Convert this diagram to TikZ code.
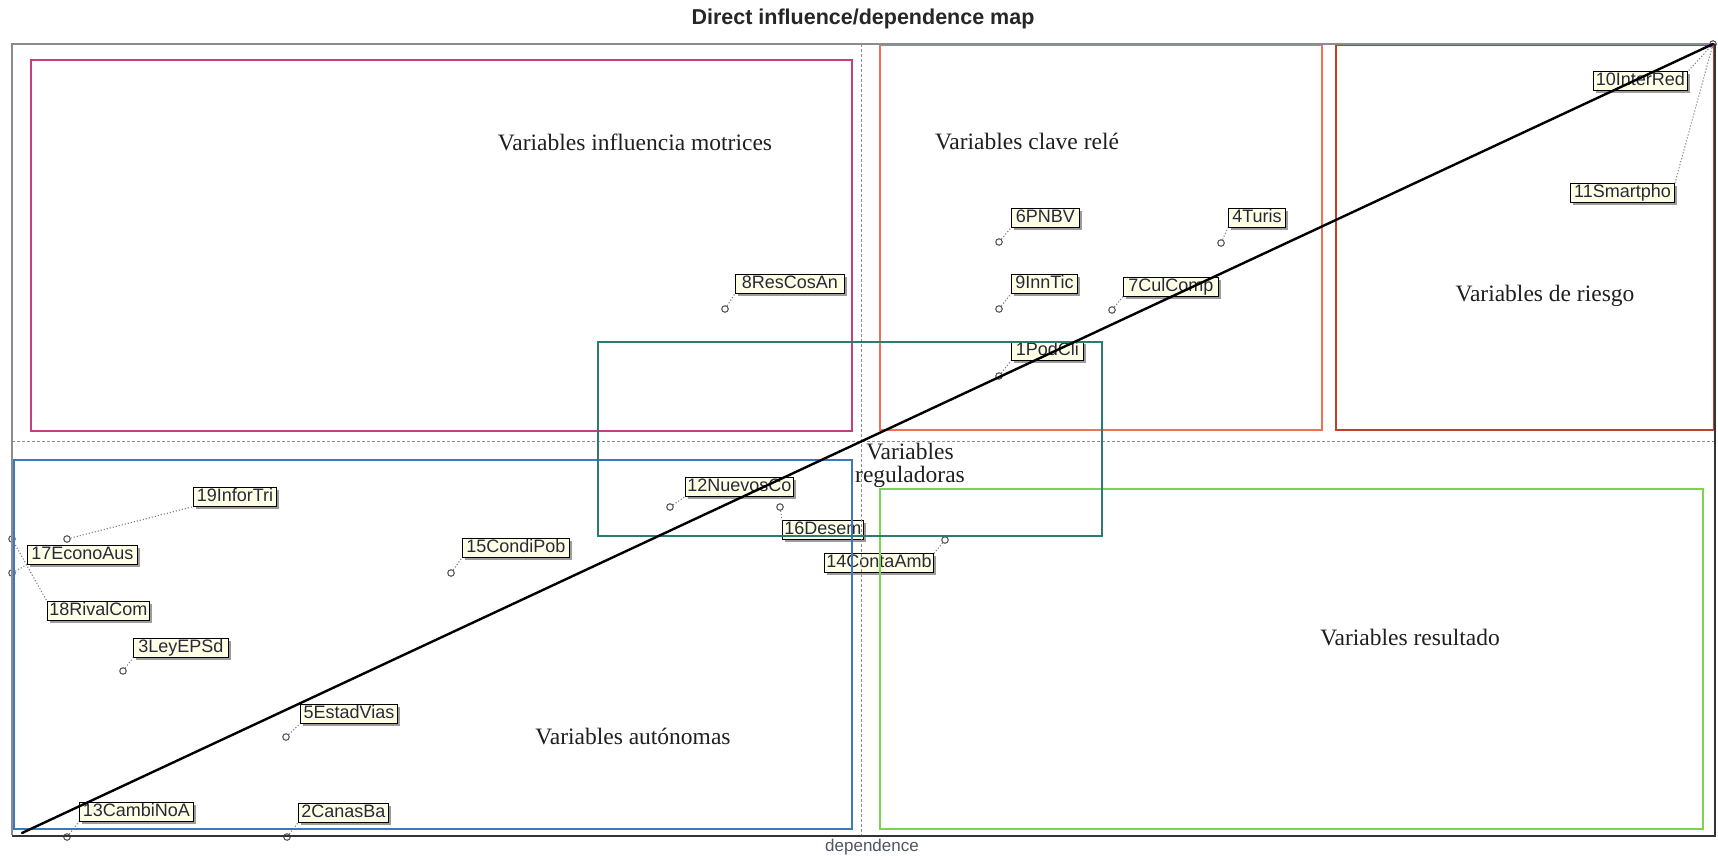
\documentclass[tikz,border=0pt]{standalone}
\usepackage{fontspec}
\setmainfont{Liberation Serif}
\newfontfamily\tagfont{Liberation Sans}
\usetikzlibrary{shadows}

\definecolor{motriz}{RGB}{196,62,128}
\definecolor{clave}{RGB}{240,112,88}
\definecolor{riesgo}{RGB}{192,62,42}
\definecolor{regul}{RGB}{45,122,112}
\definecolor{autonoma}{RGB}{58,120,192}
\definecolor{resultado}{RGB}{123,212,78}
\definecolor{tagcream}{RGB}{255,255,230}
\definecolor{tagtext}{RGB}{40,40,60}
\definecolor{axistext}{RGB}{80,86,100}

\begin{document}
\begin{tikzpicture}[x=1pt,y=-1pt,
  region/.style={line width=2.6pt},
  midline/.style={draw=black!45, dashed, line width=0.9pt, dash pattern=on 3pt off 2pt},
  varlabel/.style={font=\fontsize{23.5}{23.5}\selectfont, text=black!88, inner sep=0pt, align=center},
  vartag/.style={draw=black, line width=0.9pt, fill=tagcream, text=tagtext,
    font=\tagfont\fontsize{18}{18}\selectfont,
    inner xsep=2pt, inner ysep=1pt, text height=13pt, text depth=3.5pt, anchor=west,
    drop shadow={shadow xshift=2.5pt, shadow yshift=-2.5pt, opacity=0.55, fill=black!70}},
  vpoint/.style={circle, draw=black!65, fill=white, line width=1.1pt, inner sep=0pt, minimum size=6.5pt},
  leader/.style={draw=black!50, dotted, line width=1.1pt}]

\useasboundingbox[fill=white] (0,0) rectangle (1718,856);

% title and axis caption
\node[font=\tagfont\bfseries\fontsize{21.5}{22}\selectfont, text=black!85] (title) at (863,19) {Direct influence/dependence map};
\node[font=\tagfont\fontsize{17}{17}\selectfont, text=axistext] (xaxis) at (872,847) {dependence};

% variable tags
\node[vartag, minimum width=109pt] (t8)  at (735,284) {8ResCosAn};
\node[vartag, minimum width=68pt]  (t6)  at (1011,218) {6PNBV};
\node[vartag, minimum width=57pt]  (t4)  at (1228,218) {4Turis};
\node[vartag, minimum width=66pt]  (t9)  at (1011,284) {9InnTic};
\node[vartag, minimum width=95pt]  (t7)  at (1123,287) {7CulComp};
\node[vartag, minimum width=72pt]  (t1)  at (1011,351) {1PodCli};
\node[vartag, minimum width=94pt]  (t10) at (1593,81) {10InterRed};
\node[vartag, minimum width=104pt] (t11) at (1570,193) {11Smartpho};
\node[vartag, minimum width=83pt]  (t19) at (193,497) {19InforTri};
\node[vartag, minimum width=110pt] (t17) at (27,555) {17EconoAus};
\node[vartag, minimum width=101pt] (t18) at (47,611) {18RivalCom};
\node[vartag, minimum width=95pt]  (t3)  at (133,648) {3LeyEPSd};
\node[vartag, minimum width=107pt] (t15) at (462,548) {15CondiPob};
\node[vartag, minimum width=108pt] (t12) at (685,487) {12NuevosCo};
\node[vartag, minimum width=80pt]  (t16) at (782,530) {16Desem};
\node[vartag, minimum width=109pt] (t14) at (824,563) {14ContaAmb};
\node[vartag, minimum width=97pt]  (t5)  at (300,714) {5EstadVias};
\node[vartag, minimum width=114pt] (t13) at (79,812) {13CambiNoA};
\node[vartag, minimum width=90pt]  (t2)  at (298,813) {2CanasBa};

% variable positions
\node[vpoint] (p8)  at (725,309) {};
\node[vpoint] (p6)  at (999,242) {};
\node[vpoint] (p4)  at (1221,243) {};
\node[vpoint] (p9)  at (999,309) {};
\node[vpoint] (p7)  at (1112,310) {};
\node[vpoint] (p1)  at (999,376) {};
\node[vpoint] (pc)  at (1713,44) {};
\node[vpoint] (p19) at (67,539) {};
\node[vpoint] (p18) at (12,539) {};
\node[vpoint] (p17) at (12,573) {};
\node[vpoint] (p3)  at (123,671) {};
\node[vpoint] (p15) at (451,573) {};
\node[vpoint] (p12) at (670,507) {};
\node[vpoint] (p16) at (780,507) {};
\node[vpoint] (p14) at (945,540) {};
\node[vpoint] (p5)  at (286,737) {};
\node[vpoint] (p13) at (67,837) {};
\node[vpoint] (p2)  at (287,837) {};

% leaders from positions to tags
\draw[leader] (p8) -- (t8.south west);
\draw[leader] (p6) -- (t6.south west);
\draw[leader] (p4) -- (t4.south west);
\draw[leader] (p9) -- (t9.south west);
\draw[leader] (p7) -- (t7.south west);
\draw[leader] (p1) -- (t1.south west);
\draw[leader] (pc) -- (t10.north east);
\draw[leader] (pc) -- (t11.north east);
\draw[leader] (p19) -- (t19.south west);
\draw[leader] (p18) -- (t18.north west);
\draw[leader] (p17) -- (t17.south west);
\draw[leader] (p3) -- (t3.south west);
\draw[leader] (p15) -- (t15.south west);
\draw[leader] (p12) -- (t12.south west);
\draw[leader] (p16) -- (t16.north west);
\draw[leader] (p14) -- (t14.north east);
\draw[leader] (p5) -- (t5.south west);
\draw[leader] (p13) -- (t13.south west);
\draw[leader] (p2) -- (t2.south west);

% quadrant dividers
\draw[midline] (861,44) -- (861,835);
\draw[midline] (12,441) -- (1715,441);

% regions
\draw[region, draw=motriz]    (31,60)   rectangle (852,431);
\draw[region, draw=clave]     (880,45)  rectangle (1322,430);
\draw[region, draw=riesgo]    (1336,45) rectangle (1714,430);
\draw[region, draw=autonoma]  (14,460)  rectangle (852,829);
\draw[region, draw=resultado] (880,489) rectangle (1703,829);
\draw[region, draw=regul]     (598,342) rectangle (1102,536);

% plot frame
\draw[draw=black!45, line width=1.6pt] (12,835) -- (12,44) -- (1715,44);
\draw[draw=black!80, line width=1.4pt] (12,836) -- (1715,836) -- (1715,44);

% diagonal
\coordinate (d0) at (22,833);
\draw[line width=2.4pt, line cap=round] (d0) -- (pc.center);

% region names
\node[varlabel] (lm) at (635,142) {Variables influencia motrices};
\node[varlabel] (lc) at (1027,142) {Variables clave relé};
\node[varlabel] (lr) at (1545,296) {Variables de riesgo};
\node[varlabel, font=\fontsize{23.5}{23}\selectfont] (lg) at (910,465) {Variables\\reguladoras};
\node[varlabel] (ls) at (1410,638) {Variables resultado};
\node[varlabel] (la) at (633,736) {Variables autónomas};
\end{tikzpicture}
\end{document}
